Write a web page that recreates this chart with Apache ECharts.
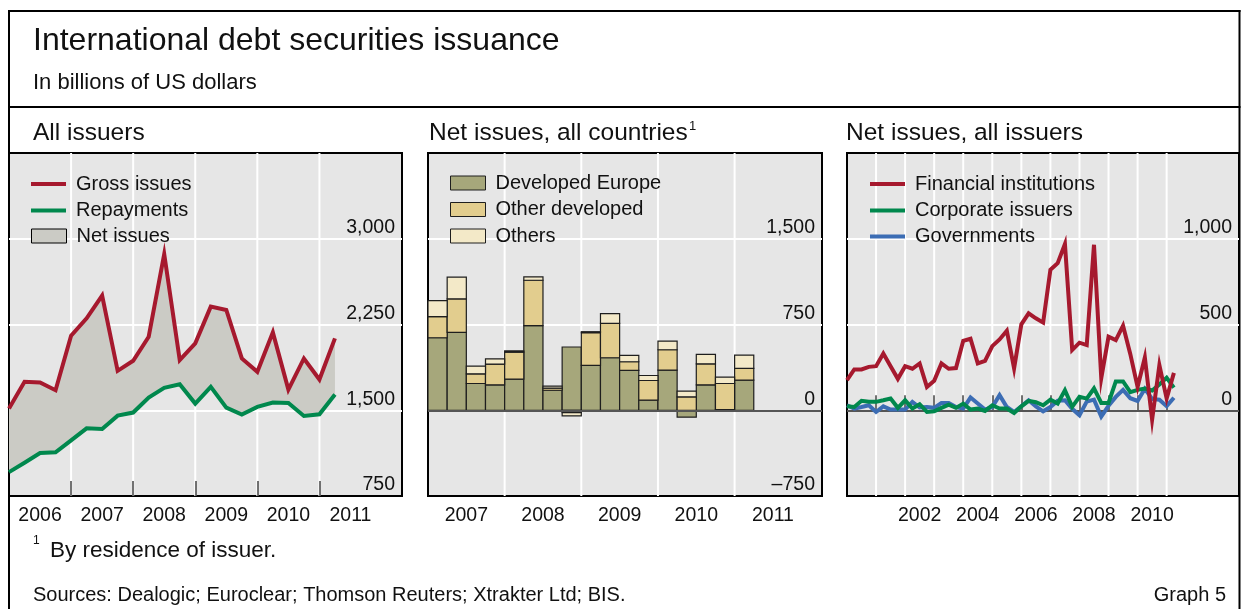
<!DOCTYPE html>
<html><head><meta charset="utf-8">
<script src="https://cdn.jsdelivr.net/npm/echarts@6/dist/echarts.min.js"></script>
<style>html,body{margin:0;padding:0;background:#fff}#c{width:1241px;height:609px}</style>
</head><body><div id="c"></div>
<script>
const FONT = "'Liberation Sans', Arial, Helvetica, sans-serif";

// ---------- Panel 1: All issuers (quarterly, plotted at quarter end) ----------
const allIssuersQuarters = ['2005Q4',
  '2006Q1','2006Q2','2006Q3','2006Q4','2007Q1','2007Q2','2007Q3','2007Q4',
  '2008Q1','2008Q2','2008Q3','2008Q4','2009Q1','2009Q2','2009Q3','2009Q4',
  '2010Q1','2010Q2','2010Q3','2010Q4','2011Q1'];
const grossIssues = [1515, 1749, 1743, 1675, 2152, 2304, 2503, 1845, 1933, 2143, 2866,
  1939, 2085, 2406, 2377, 1953, 1836, 2181, 1681, 1953, 1769, 2129];
const repayments = [959, 1041, 1126, 1132, 1237, 1342, 1336, 1453, 1480, 1611, 1696,
  1728, 1558, 1705, 1523, 1462, 1529, 1567, 1564, 1450, 1465, 1637];

// ---------- Panel 2: Net issues, all countries (quarterly bars) ----------
const netCountriesQuarters = ['2007Q1','2007Q2','2007Q3','2007Q4','2008Q1','2008Q2','2008Q3','2008Q4',
  '2009Q1','2009Q2','2009Q3','2009Q4','2010Q1','2010Q2','2010Q3','2010Q4','2011Q1'];
const developedEurope = [634, 681, 234, 222, 272, 740, 175, 553, 392, 459, 348, 88, 351, -61, 222, 5, 263];
const otherDeveloped  = [185, 293, 85, 182, 237, 397, 18, -20, 286, 301, 76, 172, 178, 117, 184, 229, 103];
const othersNet       = [140, 190, 67, 46, 11, 30, 18, -30, 9, 85, 56, 44, 76, 50, 82, 55, 116];

// ---------- Panel 3: Net issues, all issuers (quarterly, plotted at quarter end) ----------
const netIssuersQuarters = ['1999Q4',
  '2000Q1','2000Q2','2000Q3','2000Q4','2001Q1','2001Q2','2001Q3','2001Q4',
  '2002Q1','2002Q2','2002Q3','2002Q4','2003Q1','2003Q2','2003Q3','2003Q4',
  '2004Q1','2004Q2','2004Q3','2004Q4','2005Q1','2005Q2','2005Q3','2005Q4',
  '2006Q1','2006Q2','2006Q3','2006Q4','2007Q1','2007Q2','2007Q3','2007Q4',
  '2008Q1','2008Q2','2008Q3','2008Q4','2009Q1','2009Q2','2009Q3','2009Q4',
  '2010Q1','2010Q2','2010Q3','2010Q4','2011Q1'];
const financialInstitutions = [175, 238, 238, 253, 257, 331, 257, 183, 257, 242, 273, 136, 172, 273, 242, 246,
  405, 417, 273, 288, 374, 413, 464, 244, 501, 565, 536, 511, 819, 858, 969, 351, 394, 380, 965, 187,
  429, 409, 493, 327, 136, 308, -55, 263, 68, 218];
const corporateIssuers = [23, 19, 55, 49, 49, 58, 68, 14, 58, 10, 35, -10, -6, 14, 33, 14,
  39, 4, 10, -4, 29, 10, 10, -16, 23, 55, 47, 29, 62, 39, 117, 20, 78, 68, 127, 43,
  43, 168, 168, 106, 119, 126, 115, 150, 189, 132];
const governments = [29, 10, 19, 29, -10, 23, 4, 4, 4, 49, 16, 19, 14, 43, 43, 19,
  10, 74, 39, 4, 19, 88, 19, -10, 23, 58, 23, -6, 19, 55, 58, 8, -29, 50, 62, -37,
  26, 78, 119, 70, 54, 125, 66, 61, 24, 73];

// ---------- Axis ticks / labels ----------
const leftYearTicks = [2007, 2008, 2009, 2010, 2011];
const leftYearLabels = [2006, 2007, 2008, 2009, 2010, 2011];
const midYearTicks = [2008, 2009, 2010, 2011];
const midYearLabels = [2007, 2008, 2009, 2010, 2011];
const rightYearTicks = [2001, 2002, 2003, 2004, 2005, 2006, 2007, 2008, 2009, 2010, 2011];
const rightYearLabels = [2002, 2004, 2006, 2008, 2010];
const leftY = {min: 750, max: 3750, step: 750, hide: [3750]};
const midY = {min: -750, max: 2250, step: 750, hide: [2250]};
const rightY = {min: -500, max: 1500, step: 500, hide: [-500, 1500]};

// ---------- helpers ----------
function qEnd(s) { return +s.slice(0, 4) + (+s.slice(5)) / 4; }
function qMid(s) { return +s.slice(0, 4) + (+s.slice(5) - 0.5) / 4; }
function pairs(qs, vals, pos) { return vals.map((v, i) => [pos(qs[i]), v]); }
function fmtNum(v) { return (v < 0 ? '\u2013' : '') + Math.abs(v).toLocaleString('en-US'); }

const RED = '#a6192e', GREEN = '#00884d', BLUE = '#3c6db4';
const GREY_FILL = '#cbcbc5', BG = '#e6e6e6';
const C_DE = '#a6a77b', C_OD = '#e2cd8e', C_OT = '#f3e9c8';
const TXT = '#111';

// same-sign stacking bases for the bar components
const barComponents = [developedEurope, otherDeveloped, othersNet];
const barBases = barComponents.map((vals, k) => vals.map((v, i) => {
  let b = 0;
  for (let j = 0; j < k; j++) {
    const w = barComponents[j][i];
    if ((v >= 0 && w >= 0) || (v < 0 && w < 0)) b += w;
  }
  return b;
}));

function yAxisFor(idx, cfg) {
  return {
    gridIndex: idx, type: 'value', position: 'right',
    min: cfg.min, max: cfg.max, interval: cfg.step,
    axisLine: {show: false}, axisTick: {show: false},
    splitLine: {show: true, showMinLine: false, showMaxLine: false, lineStyle: {color: '#fff', width: 2}},
    axisLabel: {
      inside: true, margin: 7, verticalAlign: 'bottom', padding: [0, 0, 1, 0],
      fontSize: 19.5, fontFamily: FONT, color: TXT,
      formatter: v => (cfg.hide.indexOf(v) >= 0 ? '' : fmtNum(v))
    }
  };
}
function xAxisFor(idx, min, max, ticks, labels) {
  return {
    gridIndex: idx, type: 'value', position: 'bottom', min: min, max: max, z: 2,
    axisLine: {show: false},
    axisTick: {show: true, inside: true, length: 15, customValues: ticks, lineStyle: {color: '#444', width: 1.5}},
    splitLine: {show: false},
    axisLabel: {
      customValues: labels.map(y => y + 0.5), margin: 10,
      fontSize: 19.5, fontFamily: FONT, color: TXT,
      formatter: v => String(Math.floor(v))
    }
  };
}
const gridBase = {show: true, backgroundColor: BG, borderColor: '#000', borderWidth: 2, top: 153, height: 343, containLabel: false};

function legendRow(left, center, name, icon, h, style) {
  return {
    left: left, top: center - 10, padding: 0, itemWidth: 35, itemHeight: h, selectedMode: false,
    data: [{name: name, icon: icon, itemStyle: style}],
    textStyle: {fontSize: 20, fontFamily: FONT, color: TXT, padding: [0, 0, 0, 5]}
  };
}
const zeroLine = (z) => ({
  silent: true, symbol: 'none', label: {show: false}, animation: false, z: z,
  lineStyle: {color: '#555', width: 2, type: 'solid'}, data: [{yAxis: 0}]
});
// vertical white year gridlines, drawn beneath the data and the ticks
function yearGrid(idx, ticks, cfg) {
  return {
    type: 'custom', name: '', xAxisIndex: idx, yAxisIndex: idx, z: 1, silent: true,
    data: ticks.map(t => [t]), encode: {x: 0},
    renderItem: (params, api) => {
      const t = api.value(0);
      const a = api.coord([t, cfg.max]), b = api.coord([t, cfg.min]);
      return {type: 'line', shape: {x1: a[0], y1: a[1], x2: b[0], y2: b[1]}, style: {stroke: '#fff', lineWidth: 2}};
    }
  };
}
function lineSeries(name, xi, data, color, z, extra) {
  return Object.assign({
    type: 'line', name: name, xAxisIndex: xi, yAxisIndex: xi, data: data,
    showSymbol: false, symbol: 'none', z: z || 4,
    color: color, itemStyle: {color: color},
    lineStyle: {color: color, width: 4, join: 'miter'}
  }, extra || {});
}
function barSeries(name, k, color, extra) {
  const vals = barComponents[k], bases = barBases[k];
  return Object.assign({
    type: 'custom', name: name, xAxisIndex: 1, yAxisIndex: 1, z: 3,
    color: color, itemStyle: {color: color},
    data: netCountriesQuarters.map((q, i) => [qMid(q), vals[i], bases[i]]),
    encode: {x: 0, y: [1, 2]},
    renderItem: (params, api) => {
      const x = api.value(0), v = api.value(1), b = api.value(2);
      const a = api.coord([x - 0.125, b + v]);
      const c = api.coord([x + 0.125, b]);
      return {
        type: 'rect',
        shape: {x: a[0], y: Math.min(a[1], c[1]), width: c[0] - a[0], height: Math.abs(c[1] - a[1])},
        style: {fill: color, stroke: '#1e1e1e', lineWidth: 1.2}
      };
    }
  }, extra || {});
}
const netBand = {
  type: 'custom', name: 'Net issues', xAxisIndex: 0, yAxisIndex: 0, z: 3,
  color: GREY_FILL, itemStyle: {color: GREY_FILL},
  data: allIssuersQuarters.map((q, i) => [qEnd(q), grossIssues[i], repayments[i]]),
  encode: {x: 0, y: [1, 2]},
  renderItem: (params, api) => {
    if (params.dataIndex !== 0) return null;
    const top = allIssuersQuarters.map((q, i) => api.coord([qEnd(q), grossIssues[i]]));
    const bot = allIssuersQuarters.map((q, i) => api.coord([qEnd(q), repayments[i]])).reverse();
    return {type: 'polygon', shape: {points: top.concat(bot)}, style: {fill: GREY_FILL}};
  }
};

const textEl = (x, y, text, size, align) => ({
  type: 'text', x: x, y: y, silent: true,
  style: {text: text, fontSize: size, fontFamily: FONT, fill: TXT, align: align || 'left', verticalAlign: 'middle'}
});
const lineEl = (x1, y1, x2, y2) => ({
  type: 'line', silent: true, shape: {x1: x1, y1: y1, x2: x2, y2: y2},
  style: {stroke: '#000', lineWidth: 2}
});

const option = {
  animation: false,
  grid: [
    Object.assign({}, gridBase, {left: 9, width: 393}),
    Object.assign({}, gridBase, {left: 428, width: 394}),
    Object.assign({}, gridBase, {left: 847, width: 392})
  ],
  xAxis: [
    xAxisFor(0, 2006, 2012.33, leftYearTicks, leftYearLabels),
    xAxisFor(1, 2007, 2012.14, midYearTicks, midYearLabels),
    xAxisFor(2, 2000, 2013.49, rightYearTicks, rightYearLabels)
  ],
  yAxis: [yAxisFor(0, leftY), yAxisFor(1, midY), yAxisFor(2, rightY)],
  legend: [
    legendRow(31, 184, 'Gross issues', 'rect', 4, {color: RED, borderWidth: 0}),
    legendRow(31, 210.5, 'Repayments', 'rect', 4, {color: GREEN, borderWidth: 0}),
    legendRow(31, 236, 'Net issues', 'rect', 14, {color: GREY_FILL, borderColor: '#000', borderWidth: 1}),
    legendRow(450, 183, 'Developed Europe', 'rect', 14, {color: C_DE, borderColor: '#1e1e1e', borderWidth: 1}),
    legendRow(450, 209.5, 'Other developed', 'rect', 14, {color: C_OD, borderColor: '#1e1e1e', borderWidth: 1}),
    legendRow(450, 236, 'Others', 'rect', 14, {color: C_OT, borderColor: '#1e1e1e', borderWidth: 1}),
    legendRow(870, 184, 'Financial institutions', 'rect', 4, {color: RED, borderWidth: 0}),
    legendRow(870, 210.5, 'Corporate issuers', 'rect', 4, {color: GREEN, borderWidth: 0}),
    legendRow(870, 236.5, 'Governments', 'rect', 4, {color: BLUE, borderWidth: 0})
  ],
  series: [
    // Panel 1
    yearGrid(0, leftYearTicks, leftY),
    netBand,
    lineSeries('Gross issues', 0, pairs(allIssuersQuarters, grossIssues, qEnd), RED, 4),
    lineSeries('Repayments', 0, pairs(allIssuersQuarters, repayments, qEnd), GREEN, 4),
    // Panel 2
    yearGrid(1, midYearTicks, midY),
    barSeries('Developed Europe', 0, C_DE, {markLine: zeroLine(6)}),
    barSeries('Other developed', 1, C_OD),
    barSeries('Others', 2, C_OT),
    // Panel 3
    yearGrid(2, rightYearTicks, rightY),
    lineSeries('Governments', 2, pairs(netIssuersQuarters, governments, qEnd), BLUE, 4,
      {markLine: zeroLine(3)}),
    lineSeries('Corporate issuers', 2, pairs(netIssuersQuarters, corporateIssuers, qEnd), GREEN, 5),
    lineSeries('Financial institutions', 2, pairs(netIssuersQuarters, financialInstitutions, qEnd), RED, 6)
  ],
  graphic: [
    lineEl(8, 11, 1240.5, 11),
    lineEl(8, 107, 1240.5, 107),
    lineEl(9, 10, 9, 609),
    lineEl(1239.5, 10, 1239.5, 609),
    textEl(33, 41.5, 'International debt securities issuance', 32),
    textEl(33, 83, 'In billions of US dollars', 22),
    textEl(33, 133, 'All issuers', 24.5),
    textEl(429, 133, 'Net issues, all countries', 24.5),
    textEl(689, 126, '1', 13),
    textEl(846, 133, 'Net issues, all issuers', 24.5),
    textEl(33, 541, '1', 12),
    textEl(50, 550.5, 'By residence of issuer.', 22.5),
    textEl(33, 595.5, 'Sources: Dealogic; Euroclear; Thomson Reuters; Xtrakter Ltd; BIS.', 20),
    textEl(1226, 595.5, 'Graph 5', 20, 'right')
  ]
};

const chart = echarts.init(document.getElementById('c'), null, {renderer: 'canvas'});
chart.setOption(option);
</script>
</body></html>
